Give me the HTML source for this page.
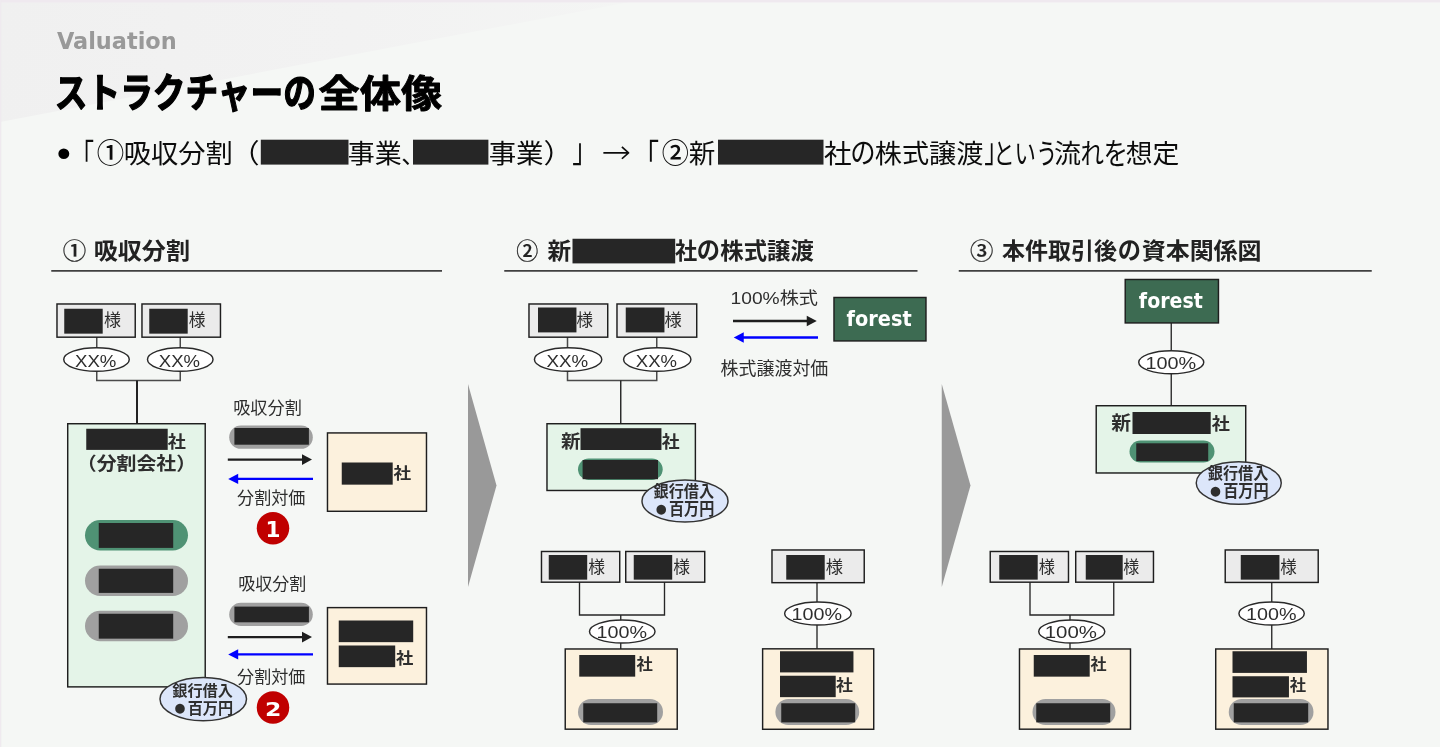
<!DOCTYPE html>
<html lang="ja">
<head>
<meta charset="utf-8">
<title>ストラクチャーの全体像</title>
<style>
html,body{margin:0;padding:0;background:#f5f7f5;overflow:hidden}
body{width:1440px;height:747px;font-family:"Liberation Sans","Noto Sans CJK JP",sans-serif}
.stage{width:1440px;height:747px;will-change:transform;filter:opacity(1)}
svg{display:block}
</style>
</head>
<body>
<div class="stage">
<svg width="1440" height="747" viewBox="0 0 1440 747">
<defs><linearGradient id="gt" x1="0" y1="0" x2="0" y2="1"><stop offset="0" stop-color="#efe9ef"/><stop offset="0.6" stop-color="#efe9ef"/><stop offset="1" stop-color="#f5f7f5"/></linearGradient><linearGradient id="gd" gradientUnits="userSpaceOnUse" x1="0" y1="0" x2="640" y2="60"><stop offset="0" stop-color="#f0f0f0"/><stop offset="0.55" stop-color="#f2f2f2"/><stop offset="1" stop-color="#f4f5f4"/></linearGradient></defs>
<rect x="0.00" y="0.00" width="1440.00" height="747.00" fill="#f5f7f5"/>
<polygon points="0.00,0.00 640.00,0.00 0.00,122.00" fill="url(#gd)"/>
<rect x="0.00" y="0.00" width="1440.00" height="2.00" fill="#efe9ef"/>
<rect x="0" y="2" width="1440" height="1" fill="#efe9ef" opacity="0.4"/>
<rect x="0.00" y="0.00" width="1.00" height="747.00" fill="#efeaef"/>
<rect x="1" y="0" width="1" height="747" fill="#efeaef" opacity="0.35"/>
<text transform="translate(56.89,48.90) scale(0.9659,1)" font-size="23.23" font-weight="bold" font-family="&quot;DejaVu Sans&quot;,&quot;Liberation Sans&quot;,sans-serif" fill="#999">Valuation</text>
<text transform="translate(54.78,106.67) scale(0.8110,1)" font-size="40.32" font-weight="bold" font-family="&quot;Liberation Sans&quot;,&quot;Noto Sans CJK JP&quot;,sans-serif" fill="#000" stroke="#000" stroke-width="1.3" stroke-linejoin="round">ストラクチャーの</text>
<text transform="translate(318.57,106.79) scale(1.0871,1)" font-size="37.88" font-weight="bold" font-family="&quot;Liberation Sans&quot;,&quot;Noto Sans CJK JP&quot;,sans-serif" fill="#000" stroke="#000" stroke-width="0.9" stroke-linejoin="round">全体像</text>
<text transform="translate(56.69,167.28) scale(1.0381,1)" font-size="38.89" font-weight="normal" font-family="&quot;Liberation Sans&quot;,&quot;Noto Sans CJK JP&quot;,sans-serif" fill="#000">•</text>
<text transform="translate(70.32,168.28) scale(0.7232,1)" font-size="32.92" font-weight="normal" font-family="&quot;Liberation Sans&quot;,&quot;Noto Sans CJK JP&quot;,sans-serif" fill="#0c0c0c">「</text>
<text transform="translate(96.68,163.30) scale(0.9885,1)" font-size="27.77" font-weight="500" font-family="&quot;Liberation Sans&quot;,&quot;Noto Sans CJK JP&quot;,sans-serif" fill="#0c0c0c">①</text>
<text transform="translate(123.75,162.96) scale(1.0352,1)" font-size="26.38" font-weight="normal" font-family="&quot;Liberation Sans&quot;,&quot;Noto Sans CJK JP&quot;,sans-serif" fill="#0c0c0c">吸収分割</text>
<text transform="translate(230.36,162.95) scale(1.0957,1)" font-size="26.84" font-weight="normal" font-family="&quot;Liberation Sans&quot;,&quot;Noto Sans CJK JP&quot;,sans-serif" fill="#0c0c0c">（</text>
<rect x="260.80" y="139.70" width="87.70" height="24.90" fill="#262626"/>
<text transform="translate(347.85,162.97) scale(1.0297,1)" font-size="26.24" font-weight="normal" font-family="&quot;Liberation Sans&quot;,&quot;Noto Sans CJK JP&quot;,sans-serif" fill="#0c0c0c">事業</text>
<text transform="translate(401.21,163.44) scale(1.0285,1)" font-size="22.86" font-weight="normal" font-family="&quot;Liberation Sans&quot;,&quot;Noto Sans CJK JP&quot;,sans-serif" fill="#0c0c0c">、</text>
<rect x="413.00" y="139.70" width="75.40" height="24.90" fill="#262626"/>
<text transform="translate(488.63,162.97) scale(1.0477,1)" font-size="26.24" font-weight="normal" font-family="&quot;Liberation Sans&quot;,&quot;Noto Sans CJK JP&quot;,sans-serif" fill="#0c0c0c">事業</text>
<text transform="translate(543.53,162.95) scale(1.0957,1)" font-size="26.84" font-weight="normal" font-family="&quot;Liberation Sans&quot;,&quot;Noto Sans CJK JP&quot;,sans-serif" fill="#0c0c0c">）</text>
<text transform="translate(572.13,161.74) scale(0.7521,1)" font-size="32.92" font-weight="normal" font-family="&quot;Liberation Sans&quot;,&quot;Noto Sans CJK JP&quot;,sans-serif" fill="#0c0c0c">」</text>
<text transform="translate(601.17,162.91) scale(1.1001,1)" font-size="32.25" font-weight="200" font-family="&quot;DejaVu Sans&quot;,&quot;Liberation Sans&quot;,sans-serif" fill="#0c0c0c">→</text>
<text transform="translate(632.87,168.28) scale(0.8003,1)" font-size="32.92" font-weight="normal" font-family="&quot;Liberation Sans&quot;,&quot;Noto Sans CJK JP&quot;,sans-serif" fill="#0c0c0c">「</text>
<text transform="translate(661.69,163.30) scale(0.9770,1)" font-size="27.77" font-weight="500" font-family="&quot;Liberation Sans&quot;,&quot;Noto Sans CJK JP&quot;,sans-serif" fill="#0c0c0c">②</text>
<text transform="translate(688.70,162.96) scale(1.0069,1)" font-size="26.38" font-weight="normal" font-family="&quot;Liberation Sans&quot;,&quot;Noto Sans CJK JP&quot;,sans-serif" fill="#0c0c0c">新</text>
<rect x="718.00" y="139.70" width="105.50" height="24.90" fill="#262626"/>
<text transform="translate(824.01,163.08) scale(1.0414,1)" font-size="26.52" font-weight="normal" font-family="&quot;Liberation Sans&quot;,&quot;Noto Sans CJK JP&quot;,sans-serif" fill="#0c0c0c">社</text>
<text transform="translate(850.22,163.42) scale(0.8647,1)" font-size="29.33" font-weight="normal" font-family="&quot;Liberation Sans&quot;,&quot;Noto Sans CJK JP&quot;,sans-serif" fill="#0c0c0c">の</text>
<text transform="translate(874.85,162.96) scale(1.0293,1)" font-size="26.38" font-weight="normal" font-family="&quot;Liberation Sans&quot;,&quot;Noto Sans CJK JP&quot;,sans-serif" fill="#0c0c0c">株式譲渡</text>
<text transform="translate(984.17,161.74) scale(0.7232,1)" font-size="32.92" font-weight="normal" font-family="&quot;Liberation Sans&quot;,&quot;Noto Sans CJK JP&quot;,sans-serif" fill="#0c0c0c">」</text>
<text transform="translate(993.22,163.56) scale(0.7452,1)" font-size="28.74" font-weight="normal" font-family="&quot;Liberation Sans&quot;,&quot;Noto Sans CJK JP&quot;,sans-serif" fill="#0c0c0c">という</text>
<text transform="translate(1053.92,163.08) scale(1.0191,1)" font-size="26.52" font-weight="normal" font-family="&quot;Liberation Sans&quot;,&quot;Noto Sans CJK JP&quot;,sans-serif" fill="#0c0c0c">流</text>
<text transform="translate(1080.41,163.86) scale(0.8237,1)" font-size="28.50" font-weight="normal" font-family="&quot;Liberation Sans&quot;,&quot;Noto Sans CJK JP&quot;,sans-serif" fill="#0c0c0c">れ</text>
<text transform="translate(1103.48,163.98) scale(0.8334,1)" font-size="29.35" font-weight="normal" font-family="&quot;Liberation Sans&quot;,&quot;Noto Sans CJK JP&quot;,sans-serif" fill="#0c0c0c">を</text>
<text transform="translate(1125.76,162.96) scale(1.0188,1)" font-size="26.38" font-weight="normal" font-family="&quot;Liberation Sans&quot;,&quot;Noto Sans CJK JP&quot;,sans-serif" fill="#0c0c0c">想定</text>
<polyline points="51.25,270.90 442.00,270.90" fill="none" stroke="#404040" stroke-width="1.9"/>
<polyline points="504.25,270.90 917.50,270.90" fill="none" stroke="#404040" stroke-width="1.9"/>
<polyline points="958.75,270.90 1371.75,270.90" fill="none" stroke="#404040" stroke-width="1.9"/>
<text transform="translate(62.79,259.19) scale(1.0524,1)" font-size="22.34" font-weight="500" font-family="&quot;Liberation Sans&quot;,&quot;Noto Sans CJK JP&quot;,sans-serif" fill="#222" stroke="#222" stroke-width="0.2" stroke-linejoin="round">①</text>
<text transform="translate(93.63,258.51) scale(1.0443,1)" font-size="23.09" font-weight="bold" font-family="&quot;Liberation Sans&quot;,&quot;Noto Sans CJK JP&quot;,sans-serif" fill="#222">吸収分割</text>
<text transform="translate(516.24,259.19) scale(0.9857,1)" font-size="22.34" font-weight="500" font-family="&quot;Liberation Sans&quot;,&quot;Noto Sans CJK JP&quot;,sans-serif" fill="#222" stroke="#222" stroke-width="0.2" stroke-linejoin="round">②</text>
<text transform="translate(547.53,258.61) scale(1.0205,1)" font-size="23.21" font-weight="bold" font-family="&quot;Liberation Sans&quot;,&quot;Noto Sans CJK JP&quot;,sans-serif" fill="#222">新</text>
<rect x="572.50" y="238.75" width="102.70" height="24.65" fill="#262626"/>
<text transform="translate(674.97,258.62) scale(0.9606,1)" font-size="23.09" font-weight="bold" font-family="&quot;Liberation Sans&quot;,&quot;Noto Sans CJK JP&quot;,sans-serif" fill="#222">社</text>
<text transform="translate(696.79,259.07) scale(0.9481,1)" font-size="24.53" font-weight="bold" font-family="&quot;Liberation Sans&quot;,&quot;Noto Sans CJK JP&quot;,sans-serif" fill="#222">の</text>
<text transform="translate(720.33,258.63) scale(1.0183,1)" font-size="22.96" font-weight="bold" font-family="&quot;Liberation Sans&quot;,&quot;Noto Sans CJK JP&quot;,sans-serif" fill="#222">株式譲渡</text>
<text transform="translate(969.90,259.19) scale(1.0476,1)" font-size="22.34" font-weight="500" font-family="&quot;Liberation Sans&quot;,&quot;Noto Sans CJK JP&quot;,sans-serif" fill="#222" stroke="#222" stroke-width="0.2" stroke-linejoin="round">③</text>
<text transform="translate(1002.04,258.53) scale(1.0080,1)" font-size="22.84" font-weight="bold" font-family="&quot;Liberation Sans&quot;,&quot;Noto Sans CJK JP&quot;,sans-serif" fill="#222">本件取引後</text>
<text transform="translate(1117.69,259.07) scale(0.9481,1)" font-size="24.53" font-weight="bold" font-family="&quot;Liberation Sans&quot;,&quot;Noto Sans CJK JP&quot;,sans-serif" fill="#222">の</text>
<text transform="translate(1141.66,258.52) scale(1.0453,1)" font-size="22.96" font-weight="bold" font-family="&quot;Liberation Sans&quot;,&quot;Noto Sans CJK JP&quot;,sans-serif" fill="#222">資本関係図</text>
<polyline points="96.75,337.00 96.75,380.50 180.25,380.50 180.25,337.00" fill="none" stroke="#4a4a4a" stroke-width="1.5"/>
<polyline points="137.00,380.50 137.00,423.50" fill="none" stroke="#222" stroke-width="2"/>
<rect x="56.98" y="303.98" width="78.25" height="33.20" fill="#ebebeb" stroke="#1e1e1e" stroke-width="1.45"/>
<rect x="64.25" y="308.75" width="38.45" height="24.90" fill="#262626"/>
<text transform="translate(103.99,326.01) scale(0.9689,1)" font-size="17.57" font-weight="normal" font-family="&quot;Liberation Sans&quot;,&quot;Noto Sans CJK JP&quot;,sans-serif" fill="#2e2e2e">様</text>
<rect x="141.97" y="303.98" width="78.50" height="33.20" fill="#ebebeb" stroke="#1e1e1e" stroke-width="1.45"/>
<rect x="149.25" y="308.75" width="38.45" height="24.90" fill="#262626"/>
<text transform="translate(188.75,326.01) scale(0.9538,1)" font-size="17.57" font-weight="normal" font-family="&quot;Liberation Sans&quot;,&quot;Noto Sans CJK JP&quot;,sans-serif" fill="#2e2e2e">様</text>
<ellipse cx="96.50" cy="359.50" rx="32.77" ry="11.78" fill="#fff" stroke="#2a2a2a" stroke-width="1.45"/>
<text transform="translate(75.03,366.61) scale(1.0870,1)" font-size="17.14" font-weight="normal" font-family="&quot;Liberation Sans&quot;,&quot;Noto Sans CJK JP&quot;,sans-serif" fill="#2e2e2e">XX%</text>
<ellipse cx="180.25" cy="359.50" rx="32.77" ry="11.78" fill="#fff" stroke="#2a2a2a" stroke-width="1.45"/>
<text transform="translate(158.79,366.61) scale(1.0802,1)" font-size="17.14" font-weight="normal" font-family="&quot;Liberation Sans&quot;,&quot;Noto Sans CJK JP&quot;,sans-serif" fill="#2e2e2e">XX%</text>
<rect x="67.72" y="423.73" width="137.50" height="263.15" fill="#e4f4e8" stroke="#1e1e1e" stroke-width="1.45"/>
<rect x="86.25" y="428.75" width="81.45" height="21.15" fill="#262626"/>
<text transform="translate(167.73,447.99) scale(1.0823,1)" font-size="16.76" font-weight="bold" font-family="&quot;Liberation Sans&quot;,&quot;Noto Sans CJK JP&quot;,sans-serif" fill="#2e2e2e">社</text>
<text transform="translate(76.76,469.68) scale(1.0924,1)" font-size="18.23" font-weight="bold" font-family="&quot;Liberation Sans&quot;,&quot;Noto Sans CJK JP&quot;,sans-serif" fill="#2e2e2e">（分割会社）</text>
<rect x="85.00" y="520.00" width="103.00" height="30.50" fill="#4f9274" rx="15.25"/>
<rect x="98.75" y="523.00" width="74.45" height="24.90" fill="#262626"/>
<rect x="85.00" y="565.50" width="103.00" height="30.50" fill="#a0a0a0" rx="15.25"/>
<rect x="98.75" y="568.75" width="74.45" height="24.15" fill="#262626"/>
<rect x="85.00" y="610.75" width="103.00" height="30.45" fill="#a0a0a0" rx="15.225000000000023"/>
<rect x="98.75" y="613.75" width="74.45" height="24.90" fill="#262626"/>
<ellipse cx="203.25" cy="699.10" rx="43.27" ry="21.67" fill="#dce6fa" stroke="#333" stroke-width="1.45"/>
<text transform="translate(172.27,696.04) scale(0.9887,1)" font-size="15.34" font-weight="bold" font-family="&quot;Liberation Sans&quot;,&quot;Noto Sans CJK JP&quot;,sans-serif" fill="#2e2e2e">銀行借入</text>
<text transform="translate(173.30,715.40) scale(0.9697,1)" font-size="23.02" font-weight="bold" font-family="&quot;Liberation Sans&quot;,&quot;Noto Sans CJK JP&quot;,sans-serif" fill="#2e2e2e">●</text>
<text transform="translate(187.69,713.71) scale(0.9466,1)" font-size="16.01" font-weight="bold" font-family="&quot;Liberation Sans&quot;,&quot;Noto Sans CJK JP&quot;,sans-serif" fill="#2e2e2e">百万円</text>
<text transform="translate(233.21,413.58) scale(1.0244,1)" font-size="16.76" font-weight="normal" font-family="&quot;Liberation Sans&quot;,&quot;Noto Sans CJK JP&quot;,sans-serif" fill="#2e2e2e">吸収分割</text>
<rect x="229.20" y="425.50" width="83.60" height="23.30" fill="#a0a0a0" rx="11.650000000000006"/>
<rect x="234.40" y="428.00" width="74.50" height="16.70" fill="#262626"/>
<polyline points="227.80,459.60 303.00,459.60" fill="none" stroke="#1e1e1e" stroke-width="2.3"/>
<polygon points="312.00,459.60 302.00,454.30 302.00,464.90" fill="#1e1e1e"/>
<polyline points="237.20,478.90 313.00,478.90" fill="none" stroke="#0000ff" stroke-width="2.3"/>
<polygon points="228.20,478.90 238.20,473.70 238.20,484.10" fill="#0000ff"/>
<text transform="translate(237.07,504.03) scale(0.9869,1)" font-size="17.30" font-weight="normal" font-family="&quot;Liberation Sans&quot;,&quot;Noto Sans CJK JP&quot;,sans-serif" fill="#2e2e2e">分割対価</text>
<circle cx="273" cy="528.25" r="16.25" fill="#c00000"/>
<text transform="translate(265.52,536.60) scale(1.0427,1)" font-size="20.68" font-weight="bold" font-family="&quot;DejaVu Sans&quot;,&quot;Liberation Sans&quot;,sans-serif" fill="#fff">1</text>
<rect x="327.48" y="432.93" width="99.00" height="78.35" fill="#fcf1dd" stroke="#1e1e1e" stroke-width="1.45"/>
<rect x="341.75" y="462.50" width="50.95" height="22.15" fill="#262626"/>
<text transform="translate(393.49,479.06) scale(1.1040,1)" font-size="15.96" font-weight="bold" font-family="&quot;Liberation Sans&quot;,&quot;Noto Sans CJK JP&quot;,sans-serif" fill="#2e2e2e">社</text>
<text transform="translate(238.22,590.33) scale(1.0166,1)" font-size="16.76" font-weight="normal" font-family="&quot;Liberation Sans&quot;,&quot;Noto Sans CJK JP&quot;,sans-serif" fill="#2e2e2e">吸収分割</text>
<rect x="229.20" y="602.80" width="83.60" height="23.20" fill="#a0a0a0" rx="11.600000000000023"/>
<rect x="234.40" y="606.60" width="74.50" height="15.70" fill="#262626"/>
<polyline points="227.80,637.10 303.00,637.10" fill="none" stroke="#1e1e1e" stroke-width="2.3"/>
<polygon points="312.00,637.10 302.00,631.80 302.00,642.40" fill="#1e1e1e"/>
<polyline points="237.20,654.40 313.00,654.40" fill="none" stroke="#0000ff" stroke-width="2.3"/>
<polygon points="228.20,654.40 238.20,649.20 238.20,659.60" fill="#0000ff"/>
<text transform="translate(237.07,683.05) scale(1.0025,1)" font-size="17.03" font-weight="normal" font-family="&quot;Liberation Sans&quot;,&quot;Noto Sans CJK JP&quot;,sans-serif" fill="#2e2e2e">分割対価</text>
<circle cx="273" cy="707.5" r="16.25" fill="#c00000"/>
<text transform="translate(265.11,715.80) scale(1.1636,1)" font-size="20.27" font-weight="bold" font-family="&quot;DejaVu Sans&quot;,&quot;Liberation Sans&quot;,sans-serif" fill="#fff">2</text>
<rect x="327.48" y="607.62" width="99.00" height="76.45" fill="#fcf1dd" stroke="#1e1e1e" stroke-width="1.45"/>
<rect x="338.75" y="620.50" width="74.45" height="21.65" fill="#262626"/>
<rect x="338.75" y="645.50" width="56.45" height="21.65" fill="#262626"/>
<text transform="translate(395.99,663.52) scale(1.0526,1)" font-size="16.49" font-weight="bold" font-family="&quot;Liberation Sans&quot;,&quot;Noto Sans CJK JP&quot;,sans-serif" fill="#2e2e2e">社</text>
<polygon points="468.00,384.00 496.50,485.50 468.00,587.00" fill="#999999"/>
<polyline points="567.50,337.00 567.50,380.50 656.75,380.50 656.75,337.00" fill="none" stroke="#4a4a4a" stroke-width="1.5"/>
<polyline points="620.75,380.50 620.75,423.50" fill="none" stroke="#222" stroke-width="1.4"/>
<rect x="528.98" y="303.98" width="78.75" height="33.20" fill="#ebebeb" stroke="#1e1e1e" stroke-width="1.45"/>
<rect x="538.00" y="307.50" width="38.45" height="24.90" fill="#262626"/>
<text transform="translate(576.51,326.01) scale(0.9386,1)" font-size="17.57" font-weight="normal" font-family="&quot;Liberation Sans&quot;,&quot;Noto Sans CJK JP&quot;,sans-serif" fill="#2e2e2e">様</text>
<rect x="616.98" y="303.98" width="79.75" height="33.20" fill="#ebebeb" stroke="#1e1e1e" stroke-width="1.45"/>
<rect x="625.75" y="307.50" width="38.70" height="24.90" fill="#262626"/>
<text transform="translate(664.48,326.01) scale(0.9840,1)" font-size="17.57" font-weight="normal" font-family="&quot;Liberation Sans&quot;,&quot;Noto Sans CJK JP&quot;,sans-serif" fill="#2e2e2e">様</text>
<ellipse cx="568.10" cy="359.50" rx="33.67" ry="11.78" fill="#fff" stroke="#2a2a2a" stroke-width="1.45"/>
<text transform="translate(546.53,366.61) scale(1.0938,1)" font-size="17.14" font-weight="normal" font-family="&quot;Liberation Sans&quot;,&quot;Noto Sans CJK JP&quot;,sans-serif" fill="#2e2e2e">XX%</text>
<ellipse cx="657.25" cy="359.50" rx="33.67" ry="11.78" fill="#fff" stroke="#2a2a2a" stroke-width="1.45"/>
<text transform="translate(635.79,366.61) scale(1.0802,1)" font-size="17.14" font-weight="normal" font-family="&quot;Liberation Sans&quot;,&quot;Noto Sans CJK JP&quot;,sans-serif" fill="#2e2e2e">XX%</text>
<text transform="translate(730.56,303.58) scale(1.1466,1)" font-size="16.76" font-weight="normal" font-family="&quot;Liberation Sans&quot;,&quot;Noto Sans CJK JP&quot;,sans-serif" fill="#2e2e2e">100%株式</text>
<polyline points="733.00,321.00 807.75,321.00" fill="none" stroke="#1e1e1e" stroke-width="2.3"/>
<polygon points="816.75,321.00 806.75,315.70 806.75,326.30" fill="#1e1e1e"/>
<polyline points="742.75,337.50 818.00,337.50" fill="none" stroke="#0000ff" stroke-width="2.3"/>
<polygon points="733.75,337.50 743.75,332.30 743.75,342.70" fill="#0000ff"/>
<text transform="translate(720.62,375.21) scale(0.9920,1)" font-size="18.11" font-weight="normal" font-family="&quot;Liberation Sans&quot;,&quot;Noto Sans CJK JP&quot;,sans-serif" fill="#2e2e2e">株式譲渡対価</text>
<rect x="833.98" y="297.48" width="92.00" height="43.45" fill="#3d6b52" stroke="#1e1e1e" stroke-width="1.45"/>
<text transform="translate(846.61,326.18) scale(0.9076,1)" font-size="21.29" font-weight="bold" font-family="&quot;DejaVu Sans&quot;,&quot;Liberation Sans&quot;,sans-serif" fill="#fff">forest</text>
<rect x="546.98" y="423.73" width="148.40" height="66.75" fill="#e4f4e8" stroke="#1e1e1e" stroke-width="1.45"/>
<text transform="translate(561.11,447.93) scale(1.0464,1)" font-size="18.61" font-weight="bold" font-family="&quot;Liberation Sans&quot;,&quot;Noto Sans CJK JP&quot;,sans-serif" fill="#2e2e2e">新</text>
<rect x="580.50" y="428.20" width="80.95" height="21.80" fill="#262626"/>
<text transform="translate(661.73,447.99) scale(1.0669,1)" font-size="16.76" font-weight="bold" font-family="&quot;Liberation Sans&quot;,&quot;Noto Sans CJK JP&quot;,sans-serif" fill="#2e2e2e">社</text>
<rect x="578.00" y="458.50" width="84.70" height="21.40" fill="#4f9274" rx="10.699999999999989"/>
<rect x="582.60" y="460.00" width="75.40" height="19.20" fill="#262626"/>
<ellipse cx="685.00" cy="501.00" rx="43.02" ry="21.07" fill="#dce6fa" stroke="#333" stroke-width="1.45"/>
<text transform="translate(653.52,497.24) scale(0.9558,1)" font-size="15.87" font-weight="bold" font-family="&quot;Liberation Sans&quot;,&quot;Noto Sans CJK JP&quot;,sans-serif" fill="#2e2e2e">銀行借入</text>
<text transform="translate(654.55,515.90) scale(0.9697,1)" font-size="23.02" font-weight="bold" font-family="&quot;Liberation Sans&quot;,&quot;Noto Sans CJK JP&quot;,sans-serif" fill="#2e2e2e">●</text>
<text transform="translate(668.94,514.66) scale(0.9145,1)" font-size="16.57" font-weight="bold" font-family="&quot;Liberation Sans&quot;,&quot;Noto Sans CJK JP&quot;,sans-serif" fill="#2e2e2e">百万円</text>
<polyline points="579.50,582.00 579.50,615.00 664.50,615.00 664.50,582.00" fill="none" stroke="#262626" stroke-width="1.35"/>
<polyline points="620.75,615.00 620.75,649.00" fill="none" stroke="#262626" stroke-width="1.35"/>
<rect x="541.48" y="551.48" width="78.25" height="30.70" fill="#ebebeb" stroke="#1e1e1e" stroke-width="1.45"/>
<rect x="548.75" y="555.00" width="38.45" height="24.65" fill="#262626"/>
<text transform="translate(588.25,572.83) scale(0.9999,1)" font-size="16.76" font-weight="normal" font-family="&quot;Liberation Sans&quot;,&quot;Noto Sans CJK JP&quot;,sans-serif" fill="#2e2e2e">様</text>
<rect x="625.73" y="551.48" width="79.00" height="30.70" fill="#ebebeb" stroke="#1e1e1e" stroke-width="1.45"/>
<rect x="633.75" y="555.00" width="38.45" height="24.65" fill="#262626"/>
<text transform="translate(673.25,572.83) scale(0.9999,1)" font-size="16.76" font-weight="normal" font-family="&quot;Liberation Sans&quot;,&quot;Noto Sans CJK JP&quot;,sans-serif" fill="#2e2e2e">様</text>
<ellipse cx="622.25" cy="631.50" rx="32.77" ry="11.53" fill="#fff" stroke="#2a2a2a" stroke-width="1.45"/>
<text transform="translate(596.52,637.78) scale(1.1676,1)" font-size="16.90" font-weight="normal" font-family="&quot;Liberation Sans&quot;,&quot;Noto Sans CJK JP&quot;,sans-serif" fill="#2e2e2e">100%</text>
<rect x="565.23" y="648.98" width="112.00" height="80.20" fill="#fcf1dd" stroke="#1e1e1e" stroke-width="1.45"/>
<rect x="579.25" y="655.00" width="55.95" height="21.65" fill="#262626"/>
<text transform="translate(636.51,669.81) scale(1.0228,1)" font-size="15.96" font-weight="bold" font-family="&quot;Liberation Sans&quot;,&quot;Noto Sans CJK JP&quot;,sans-serif" fill="#2e2e2e">社</text>
<rect x="578.00" y="699.00" width="85.00" height="26.00" fill="#a0a0a0" rx="13.0"/>
<rect x="583.25" y="703.25" width="73.95" height="19.15" fill="#262626"/>
<polyline points="817.00,582.00 817.00,649.00" fill="none" stroke="#262626" stroke-width="1.35"/>
<rect x="771.98" y="549.98" width="92.25" height="32.70" fill="#ebebeb" stroke="#1e1e1e" stroke-width="1.45"/>
<rect x="786.25" y="555.00" width="38.45" height="24.65" fill="#262626"/>
<text transform="translate(825.73,572.83) scale(1.0317,1)" font-size="16.76" font-weight="normal" font-family="&quot;Liberation Sans&quot;,&quot;Noto Sans CJK JP&quot;,sans-serif" fill="#2e2e2e">様</text>
<ellipse cx="817.90" cy="613.50" rx="33.27" ry="11.53" fill="#fff" stroke="#2a2a2a" stroke-width="1.45"/>
<text transform="translate(791.52,620.28) scale(1.1676,1)" font-size="16.90" font-weight="normal" font-family="&quot;Liberation Sans&quot;,&quot;Noto Sans CJK JP&quot;,sans-serif" fill="#2e2e2e">100%</text>
<rect x="762.62" y="648.83" width="111.10" height="80.45" fill="#fcf1dd" stroke="#1e1e1e" stroke-width="1.45"/>
<rect x="780.00" y="651.25" width="73.45" height="21.15" fill="#262626"/>
<rect x="780.00" y="675.75" width="55.70" height="21.40" fill="#262626"/>
<text transform="translate(836.00,691.11) scale(1.0917,1)" font-size="15.43" font-weight="bold" font-family="&quot;Liberation Sans&quot;,&quot;Noto Sans CJK JP&quot;,sans-serif" fill="#2e2e2e">社</text>
<rect x="775.40" y="699.00" width="83.80" height="26.00" fill="#a0a0a0" rx="13.0"/>
<rect x="781.25" y="703.25" width="73.95" height="19.15" fill="#262626"/>
<polygon points="941.75,384.00 970.50,485.50 941.75,587.00" fill="#999999"/>
<polyline points="1171.25,323.00 1171.25,405.50" fill="none" stroke="#262626" stroke-width="1.35"/>
<rect x="1125.22" y="279.48" width="93.25" height="43.45" fill="#3d6b52" stroke="#1e1e1e" stroke-width="1.45"/>
<text transform="translate(1138.87,307.93) scale(0.8935,1)" font-size="21.29" font-weight="bold" font-family="&quot;DejaVu Sans&quot;,&quot;Liberation Sans&quot;,sans-serif" fill="#fff">forest</text>
<ellipse cx="1171.25" cy="362.25" rx="32.52" ry="11.53" fill="#fff" stroke="#2a2a2a" stroke-width="1.45"/>
<text transform="translate(1145.51,368.53) scale(1.1737,1)" font-size="16.90" font-weight="normal" font-family="&quot;Liberation Sans&quot;,&quot;Noto Sans CJK JP&quot;,sans-serif" fill="#2e2e2e">100%</text>
<rect x="1096.22" y="405.73" width="149.50" height="67.25" fill="#e4f4e8" stroke="#1e1e1e" stroke-width="1.45"/>
<text transform="translate(1111.36,429.52) scale(1.0252,1)" font-size="19.25" font-weight="bold" font-family="&quot;Liberation Sans&quot;,&quot;Noto Sans CJK JP&quot;,sans-serif" fill="#2e2e2e">新</text>
<rect x="1132.50" y="412.00" width="78.20" height="22.00" fill="#262626"/>
<text transform="translate(1211.73,429.69) scale(1.0490,1)" font-size="17.29" font-weight="bold" font-family="&quot;Liberation Sans&quot;,&quot;Noto Sans CJK JP&quot;,sans-serif" fill="#2e2e2e">社</text>
<rect x="1129.50" y="440.50" width="85.00" height="22.00" fill="#4f9274" rx="11.0"/>
<rect x="1136.25" y="443.30" width="71.95" height="17.80" fill="#262626"/>
<ellipse cx="1238.75" cy="483.00" rx="42.52" ry="21.27" fill="#dce6fa" stroke="#333" stroke-width="1.45"/>
<text transform="translate(1207.77,478.99) scale(0.9558,1)" font-size="15.87" font-weight="bold" font-family="&quot;Liberation Sans&quot;,&quot;Noto Sans CJK JP&quot;,sans-serif" fill="#2e2e2e">銀行借入</text>
<text transform="translate(1208.80,497.65) scale(0.9697,1)" font-size="23.02" font-weight="bold" font-family="&quot;Liberation Sans&quot;,&quot;Noto Sans CJK JP&quot;,sans-serif" fill="#2e2e2e">●</text>
<text transform="translate(1223.19,496.63) scale(0.8993,1)" font-size="16.85" font-weight="bold" font-family="&quot;Liberation Sans&quot;,&quot;Noto Sans CJK JP&quot;,sans-serif" fill="#2e2e2e">百万円</text>
<polyline points="1030.00,582.00 1030.00,615.00 1113.75,615.00 1113.75,582.00" fill="none" stroke="#262626" stroke-width="1.35"/>
<polyline points="1070.00,615.00 1070.00,649.00" fill="none" stroke="#262626" stroke-width="1.35"/>
<rect x="990.23" y="551.48" width="78.25" height="30.70" fill="#ebebeb" stroke="#1e1e1e" stroke-width="1.45"/>
<rect x="999.25" y="555.00" width="38.45" height="24.65" fill="#262626"/>
<text transform="translate(1038.76,572.83) scale(0.9682,1)" font-size="16.76" font-weight="normal" font-family="&quot;Liberation Sans&quot;,&quot;Noto Sans CJK JP&quot;,sans-serif" fill="#2e2e2e">様</text>
<rect x="1075.72" y="551.48" width="77.75" height="30.70" fill="#ebebeb" stroke="#1e1e1e" stroke-width="1.45"/>
<rect x="1085.75" y="555.00" width="36.95" height="24.65" fill="#262626"/>
<text transform="translate(1123.27,572.83) scale(0.9523,1)" font-size="16.76" font-weight="normal" font-family="&quot;Liberation Sans&quot;,&quot;Noto Sans CJK JP&quot;,sans-serif" fill="#2e2e2e">様</text>
<ellipse cx="1071.75" cy="631.50" rx="33.02" ry="11.53" fill="#fff" stroke="#2a2a2a" stroke-width="1.45"/>
<text transform="translate(1044.72,637.78) scale(1.2100,1)" font-size="16.90" font-weight="normal" font-family="&quot;Liberation Sans&quot;,&quot;Noto Sans CJK JP&quot;,sans-serif" fill="#2e2e2e">100%</text>
<rect x="1019.48" y="648.98" width="111.00" height="80.20" fill="#fcf1dd" stroke="#1e1e1e" stroke-width="1.45"/>
<rect x="1033.75" y="655.00" width="55.95" height="21.65" fill="#262626"/>
<text transform="translate(1090.51,669.81) scale(1.0066,1)" font-size="15.96" font-weight="bold" font-family="&quot;Liberation Sans&quot;,&quot;Noto Sans CJK JP&quot;,sans-serif" fill="#2e2e2e">社</text>
<rect x="1032.50" y="699.00" width="83.00" height="26.00" fill="#a0a0a0" rx="13.0"/>
<rect x="1036.25" y="703.25" width="73.95" height="19.15" fill="#262626"/>
<polyline points="1271.75,582.00 1271.75,649.00" fill="none" stroke="#262626" stroke-width="1.35"/>
<rect x="1225.22" y="549.98" width="93.00" height="32.45" fill="#ebebeb" stroke="#1e1e1e" stroke-width="1.45"/>
<rect x="1240.75" y="555.00" width="38.70" height="24.65" fill="#262626"/>
<text transform="translate(1280.26,572.83) scale(0.9840,1)" font-size="16.76" font-weight="normal" font-family="&quot;Liberation Sans&quot;,&quot;Noto Sans CJK JP&quot;,sans-serif" fill="#2e2e2e">様</text>
<ellipse cx="1271.60" cy="613.50" rx="32.67" ry="11.53" fill="#fff" stroke="#2a2a2a" stroke-width="1.45"/>
<text transform="translate(1246.02,620.28) scale(1.1676,1)" font-size="16.90" font-weight="normal" font-family="&quot;Liberation Sans&quot;,&quot;Noto Sans CJK JP&quot;,sans-serif" fill="#2e2e2e">100%</text>
<rect x="1215.72" y="648.98" width="112.25" height="80.20" fill="#fcf1dd" stroke="#1e1e1e" stroke-width="1.45"/>
<rect x="1232.50" y="651.25" width="74.45" height="21.65" fill="#262626"/>
<rect x="1232.50" y="676.25" width="56.45" height="21.15" fill="#262626"/>
<text transform="translate(1289.76,691.11) scale(1.0581,1)" font-size="15.43" font-weight="bold" font-family="&quot;Liberation Sans&quot;,&quot;Noto Sans CJK JP&quot;,sans-serif" fill="#2e2e2e">社</text>
<rect x="1228.75" y="699.00" width="84.75" height="26.00" fill="#a0a0a0" rx="13.0"/>
<rect x="1233.75" y="703.25" width="74.45" height="19.15" fill="#262626"/>
</svg>
</div>
</body>
</html>
